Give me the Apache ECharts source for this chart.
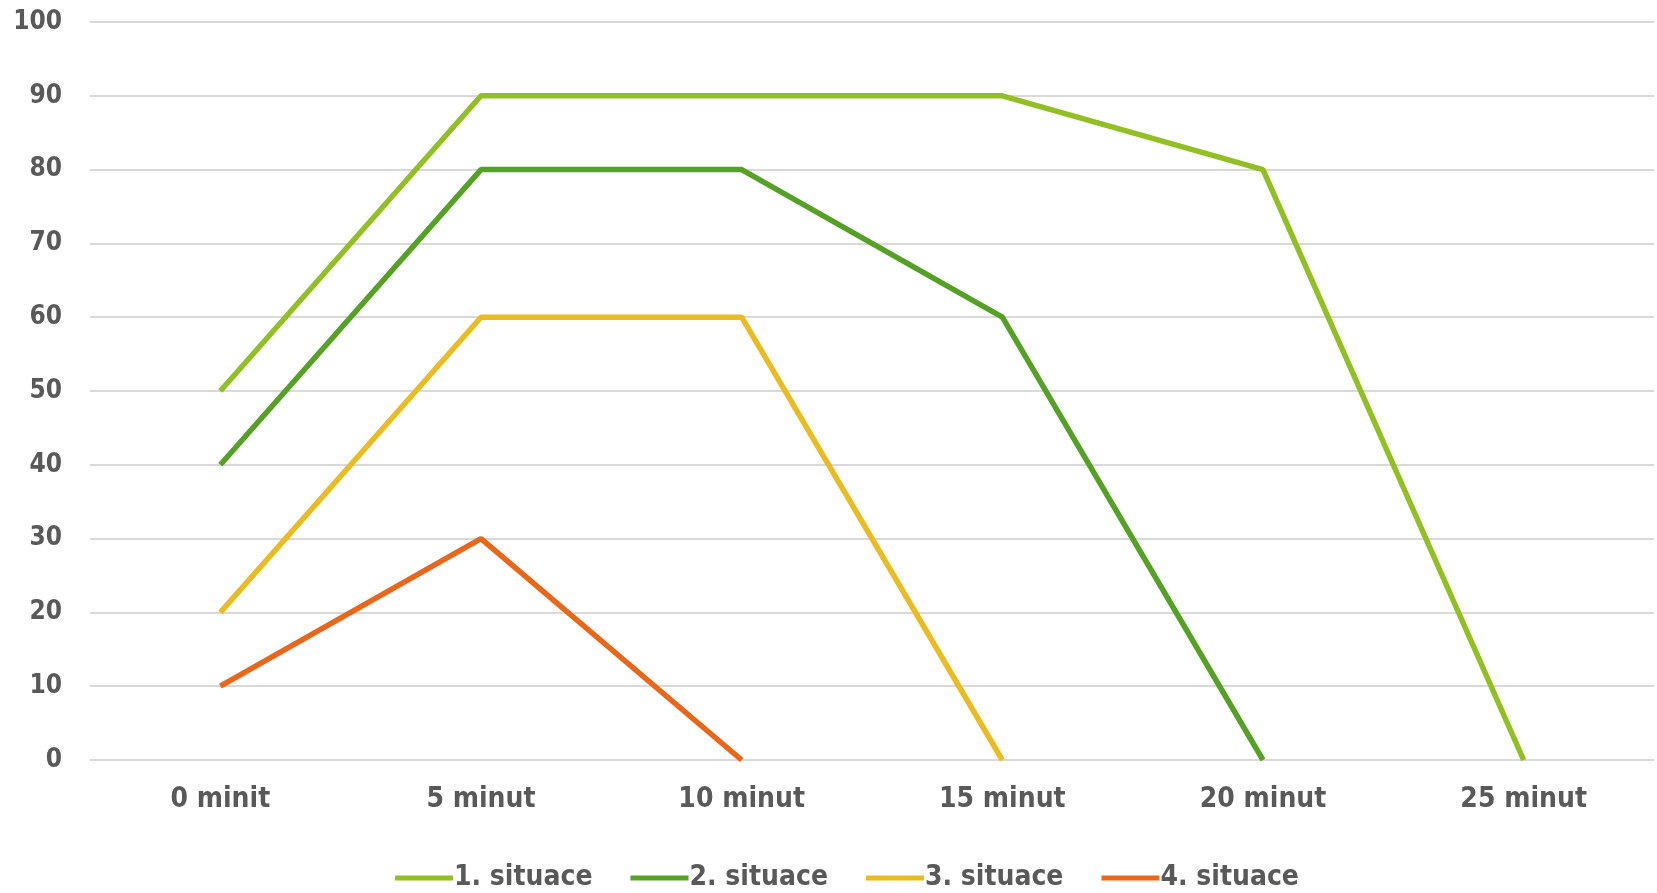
<!DOCTYPE html>
<html><head><meta charset="utf-8">
<script src="https://cdn.jsdelivr.net/npm/echarts@6/dist/echarts.min.js"></script>
<style>html,body{margin:0;padding:0;background:#fff}#c{width:1657px;height:893px}</style>
</head><body><div id="c"></div>
<script>
const categories = ['0 minit','5 minut','10 minut','15 minut','20 minut','25 minut'];
const s1 = [50, 90, 90, 90, 80, 0];
const s2 = [40, 80, 80, 60, 0, null];
const s3 = [20, 60, 60, 0, null, null];
const s4 = [10, 30, 0, null, null, null];
const names = ['1. situace','2. situace','3. situace','4. situace'];
const colors = ['#92C024','#55A125','#EBBB22','#E8671B'];
const font = '"DejaVu Sans Condensed", "DejaVu Sans", sans-serif';
const chart = echarts.init(document.getElementById('c'));
const data = [s1,s2,s3,s4];
chart.setOption({
  animation:false,
  grid:{left:90,right:3,top:22,bottom:133,containLabel:false},
  xAxis:{type:'category',data:categories,boundaryGap:true,
    axisLine:{show:false},axisTick:{show:false},
    axisLabel:{color:'#595959',fontFamily:font,fontWeight:'bold',fontSize:28,margin:26}},
  yAxis:{type:'value',min:0,max:100,interval:10,
    axisLine:{show:false},axisTick:{show:false},
    splitLine:{lineStyle:{color:'#d9d9d9',width:2}},
    axisLabel:{color:'#595959',fontFamily:font,fontWeight:'bold',fontSize:26,margin:28}},
  legend:{bottom:-4,left:390,itemWidth:58,itemHeight:5,itemGap:38,
    icon:'rect',
    textStyle:{color:'#595959',fontFamily:font,fontWeight:'bold',fontSize:28,padding:[0,0,0,-4]},
    data:names},
  series:data.map((d,i)=>({name:names[i],type:'line',data:d,symbol:'none',
    lineStyle:{color:colors[i],width:5.5},itemStyle:{color:colors[i]},z:10-i}))
});
</script></body></html>
